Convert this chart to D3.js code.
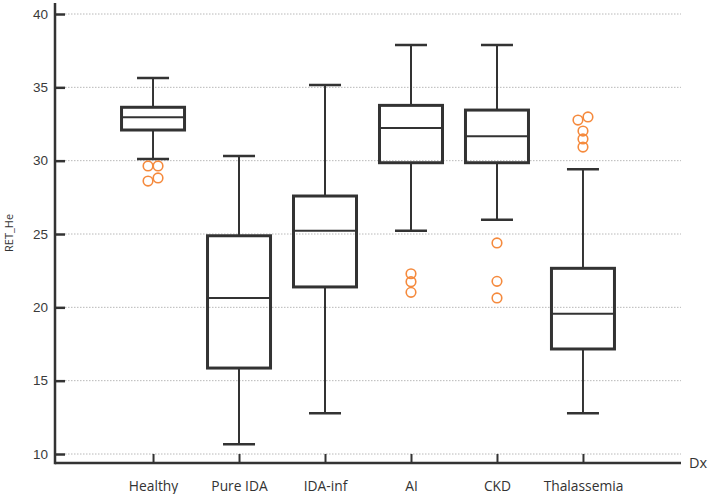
<!DOCTYPE html>
<html>
<head>
<meta charset="utf-8">
<script src="https://cdn.jsdelivr.net/npm/d3@7"></script>
<style>
  body { margin: 0; background: #fff; }
  svg { display: block; }
</style>
</head>
<body>
<div id="chart"></div>
<script>
// categories and box summaries
const categories = ['Healthy', 'Pure IDA', 'IDA-inf', 'AI', 'CKD', 'Thalassemia'];
const whiskerLow = [30.11, 10.66, 12.77, 25.23, 25.98, 12.77];
const q1 = [32.09, 15.86, 21.39, 29.86, 29.86, 17.16];
const median = [32.96, 20.64, 25.23, 32.23, 31.66, 19.57];
const q3 = [33.64, 24.88, 27.59, 33.77, 33.45, 22.66];
const whiskerHigh = [35.64, 30.32, 35.16, 37.89, 37.89, 29.41];
const outliers = [
  [29.64, 29.64, 28.82, 28.61],
  [],
  [],
  [22.29, 21.75, 21.02],
  [24.39, 21.77, 20.64],
  [32.98, 32.77, 32.02, 31.48, 30.93],
];
const yTicks = [10, 15, 20, 25, 30, 35, 40];

const width = 709;
const height = 494;
const ink = '#333';
const orange = '#f58a3d';

const svg = d3.select('#chart').append('svg')
  .attr('width', width)
  .attr('height', height);

// frame edges
const frameLeft = 55;
const frameRight = 681;

const y = d3.scaleLinear().domain([10, 40]).range([454, 14]);
const x = d3.scalePoint().domain(categories).range([frameLeft, frameRight]).padding(1.14);

const frameBottom = y(9.39);
const frameTop = y(40.75);

// gridlines
svg.append('g')
  .selectAll('line')
  .data(yTicks)
  .join('line')
  .attr('x1', frameLeft + 10)
  .attr('x2', frameRight)
  .attr('y1', d => y(d))
  .attr('y2', d => y(d))
  .attr('stroke', '#b8b8b8')
  .attr('stroke-width', 1)
  .attr('stroke-dasharray', '1.5,1.5');

// y axis
const yAxis = svg.append('g')
  .attr('transform', `translate(${frameLeft},0)`)
  .call(d3.axisRight(y).tickValues(yTicks).tickSize(10).tickFormat(d3.format('d')));
yAxis.select('.domain').remove();
yAxis.selectAll('.tick line').attr('stroke', ink).attr('stroke-width', 2.5);
yAxis.selectAll('.tick text')
  .attr('x', -7)
  .attr('text-anchor', 'end')
  .attr('fill', '#3a3a3a')
  .style('font-family', '"Liberation Sans", Arial, sans-serif')
  .style('font-size', '13.5px');

// x axis
const xAxis = svg.append('g')
  .attr('transform', `translate(0,${frameBottom})`)
  .call(d3.axisTop(x).tickSize(9));
xAxis.select('.domain').remove();
xAxis.selectAll('.tick line').attr('stroke', ink).attr('stroke-width', 2);
xAxis.selectAll('.tick text')
  .attr('y', 28)
  .attr('fill', ink)
  .style('font-family', '"Open Sans", "Noto Sans", sans-serif')
  .style('font-size', '13.8px');

// frame lines
svg.append('line')
  .attr('x1', frameLeft).attr('x2', frameLeft)
  .attr('y1', frameTop).attr('y2', frameBottom + 1.2)
  .attr('stroke', ink).attr('stroke-width', 2.5);
svg.append('line')
  .attr('x1', frameLeft).attr('x2', frameRight)
  .attr('y1', frameBottom).attr('y2', frameBottom)
  .attr('stroke', ink).attr('stroke-width', 2.5);

// axis titles
svg.append('text')
  .attr('transform', `translate(13,${(frameTop + frameBottom) / 2}) rotate(-90)`)
  .attr('text-anchor', 'middle')
  .attr('fill', ink)
  .style('font-family', '"Open Sans", "Noto Sans", sans-serif')
  .style('font-size', '11px')
  .text('RET_He');
svg.append('text')
  .attr('x', frameRight + 8)
  .attr('y', frameBottom)
  .attr('dy', '0.35em')
  .attr('fill', ink)
  .style('font-family', '"Open Sans", "Noto Sans", sans-serif')
  .style('font-size', '14.5px')
  .text('Dx');

// boxes
const boxW = 63;
const capW = 32;
const rows = categories.map((c, i) => ({
  name: c,
  lo: whiskerLow[i],
  q1: q1[i],
  med: median[i],
  q3: q3[i],
  hi: whiskerHigh[i],
  out: outliers[i],
}));

const box = svg.append('g')
  .selectAll('g')
  .data(rows)
  .join('g')
  .attr('transform', d => `translate(${x(d.name)},0)`);

// whiskers
box.append('line')
  .attr('y1', d => y(d.hi)).attr('y2', d => y(d.q3))
  .attr('stroke', ink).attr('stroke-width', 2);
box.append('line')
  .attr('y1', d => y(d.q1)).attr('y2', d => y(d.lo))
  .attr('stroke', ink).attr('stroke-width', 2);
box.append('line')
  .attr('x1', -capW / 2).attr('x2', capW / 2)
  .attr('y1', d => y(d.hi)).attr('y2', d => y(d.hi))
  .attr('stroke', ink).attr('stroke-width', 2.5);
box.append('line')
  .attr('x1', -capW / 2).attr('x2', capW / 2)
  .attr('y1', d => y(d.lo)).attr('y2', d => y(d.lo))
  .attr('stroke', ink).attr('stroke-width', 2.5);

box.append('rect')
  .attr('x', -boxW / 2)
  .attr('width', boxW)
  .attr('y', d => y(d.q3))
  .attr('height', d => y(d.q1) - y(d.q3))
  .attr('fill', 'none')
  .attr('stroke', ink)
  .attr('stroke-width', 3);

box.append('line')
  .attr('x1', -boxW / 2).attr('x2', boxW / 2)
  .attr('y1', d => y(d.med)).attr('y2', d => y(d.med))
  .attr('stroke', ink).attr('stroke-width', 2);

// outliers: near-equal values are dodged sideways
function dodge(vals) {
  const sorted = vals.slice().sort((a, b) => a - b);
  const groups = [];
  sorted.forEach((v) => {
    const g = groups[groups.length - 1];
    if (g && Math.abs(y(v) - y(g[g.length - 1])) < 5) g.push(v);
    else groups.push([v]);
  });
  const res = [];
  groups.forEach((g) => {
    g.forEach((v, i) => res.push({ v, dx: (i - (g.length - 1) / 2) * 10 }));
  });
  return res;
}

box.selectAll('circle')
  .data(d => dodge(d.out))
  .join('circle')
  .attr('cx', d => d.dx)
  .attr('cy', d => y(d.v))
  .attr('r', 4.8)
  .attr('fill', 'none')
  .attr('stroke', orange)
  .attr('stroke-width', 1.6);
</script>
</body>
</html>
